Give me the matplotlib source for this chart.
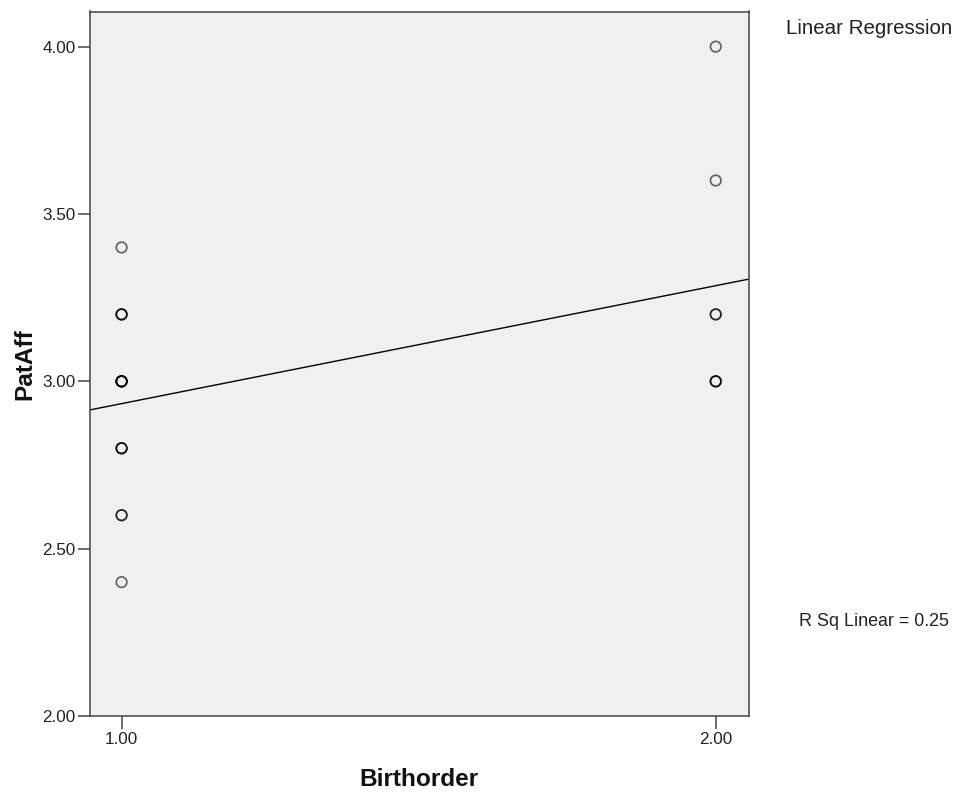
import matplotlib
matplotlib.use('Agg')
import matplotlib.pyplot as plt
import numpy as np

plt.rcParams['font.family'] = ['Liberation Sans', 'DejaVu Sans']

# ---- data ----
birthorder = [1.0] * 15 + [2.0] * 7
pataff = [3.4, 3.2, 3.2, 3.2, 3.0, 3.0, 3.0, 3.0, 3.0, 2.8, 2.8, 2.8, 2.6, 2.6, 2.4,
          4.0, 3.6, 3.2, 3.2, 3.0, 3.0, 3.0]
x_ticks = [1.0, 2.0]
x_tick_labels = ['1.00', '2.00']
y_ticks = [2.0, 2.5, 3.0, 3.5, 4.0]
y_tick_labels = ['2.00', '2.50', '3.00', '3.50', '4.00']
x_title = 'Birthorder'
y_title = 'PatAff'
fit_title = 'Linear Regression'
r_sq_label = 'R Sq Linear = 0.25'

W, H = 962, 794
fig = plt.figure(figsize=(W / 100, H / 100), dpi=100)
left_px, right_px, top_px, bottom_px = 89.5, 749.0, 11.5, 716.0
ax = fig.add_axes([left_px / W, 1 - bottom_px / H,
                   (right_px - left_px) / W, (bottom_px - top_px) / H])
ax.set_facecolor('#F0F0F0')

ax.set_xlim(0.946, 2.056)
ax.set_ylim(2.0, 4.105)

x = np.array(birthorder)
y = np.array(pataff)
ax.scatter(x, y, s=7.6 ** 2, facecolors='none',
           edgecolors=[(0, 0, 0, 0.6)], linewidths=1.2, zorder=3)

slope, intercept = np.polyfit(x, y, 1)
xs = np.array(ax.get_xlim())
ax.plot(xs, intercept + slope * xs, color='black', lw=1.0, zorder=2)

ax.set_xticks(x_ticks)
ax.set_xticklabels(x_tick_labels)
ax.set_yticks(y_ticks)
ax.set_yticklabels(y_tick_labels)

for sp in ax.spines.values():
    sp.set_color('#444444')
    sp.set_linewidth(1.1)

ax.tick_params(direction='out', length=9, width=1.1, color='#444444',
               labelsize=12.3, labelcolor='#222222')
ax.tick_params(axis='y', pad=1)
ax.tick_params(axis='x', pad=2.5)

ax.set_xlabel(x_title, fontsize=17.6, fontweight='bold', color='#111111')
ax.xaxis.label.set_va('baseline')
ax.xaxis.set_label_coords(0.5, -(786 - bottom_px) / (bottom_px - top_px))

ax.set_ylabel(y_title, fontsize=17.6, fontweight='bold', color='#111111')
ax.yaxis.set_label_coords((36 - left_px) / (right_px - left_px), 0.5)

fig.text(786 / W, 1 - 34 / H, fit_title, fontsize=14.8, ha='left',
         va='baseline', color='#222222')
fig.text(799.3 / W, 1 - 625.7 / H, r_sq_label, fontsize=12.9, ha='left',
         va='baseline', color='#222222')

fig.savefig('out.png', dpi=100, facecolor='white')
